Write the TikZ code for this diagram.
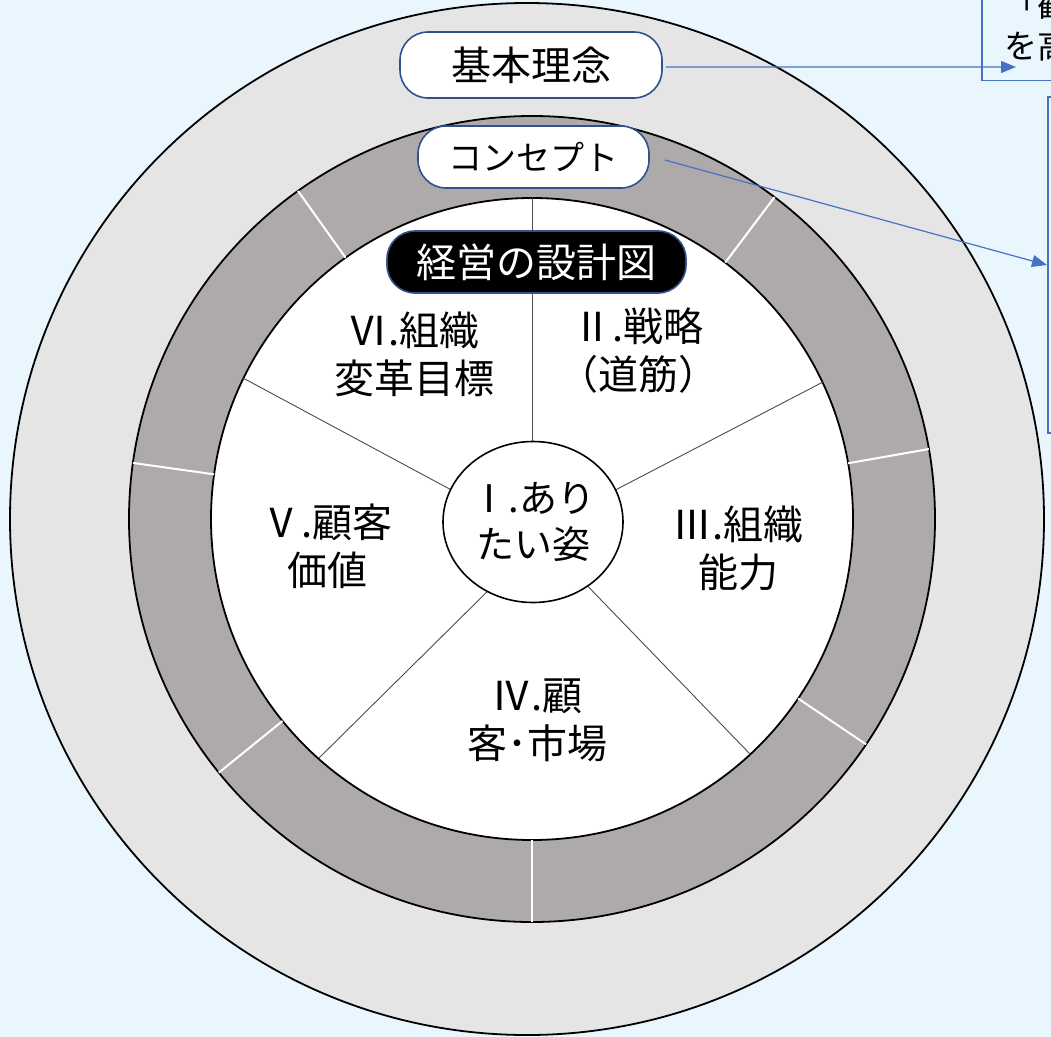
\documentclass[tikz,border=0pt]{standalone}
\usepackage{fontspec}
\newfontfamily\jp{Noto Sans CJK JP}
\usetikzlibrary{arrows.meta,shapes.geometric}
\definecolor{bgblue}{HTML}{EAF6FD}
\definecolor{ringlight}{HTML}{E5E5E5}
\definecolor{ringgray}{HTML}{AEAAAA}
\definecolor{linkblue}{HTML}{4472C4}
\definecolor{edgeblue}{HTML}{2F528F}
\begin{document}
\begin{tikzpicture}[x=1bp,y=-1bp,
  pill/.style={draw=edgeblue, line width=1.6bp, fill=white, rounded corners=28bp, inner sep=0pt,
    font=\jp\fontsize{40bp}{48bp}\selectfont},
  sectorlabel/.style={align=center, inner sep=0pt, font=\jp\fontsize{40bp}{48bp}\selectfont},
  link/.style={draw=linkblue, line width=1.2bp, -{Triangle[length=15bp,width=12bp]}},
  infobox/.style={draw=linkblue, line width=1.5bp, rectangle, inner sep=0pt},
  ringline/.style={white, line width=2bp},
  spoke/.style={draw=black!70, line width=0.9bp},
  outline/.style={draw=black, line width=1.8bp}]
\useasboundingbox (0,0) rectangle (1051,1037);
\clip (0,0) rectangle (1051,1037);
\fill[bgblue] (0,0) rectangle (1051,1037);

% rings
\draw[outline, fill=ringlight] (527,519) ellipse [x radius=517, y radius=516];
\draw[outline, fill=ringgray] (532,519) circle [radius=403];
\draw[outline, fill=white] (532,519) circle [radius=321];

% white separators in the grey ring (angles negated because the y axis points down)
\foreach \a in {-125.5,-53,-10,34,90,141,-172}
  \draw[ringline] (532,519) ++(\a:321) -- ++(\a:82);

% spokes in the white disk
\draw[spoke] (532,198) -- (532,470);
\draw[spoke] (243,378) -- (470,500);
\draw[spoke] (823,382) -- (600,498);
\draw[spoke] (319,758) -- (500,579);
\draw[spoke] (750,754) -- (575,573);

% centre
\node[draw, line width=1.6bp, fill=white, ellipse, minimum width=180bp, minimum height=161bp,
  inner sep=0pt, align=center, font=\jp\fontsize{38bp}{46bp}\selectfont] (core) at (533,522)
  {Ⅰ.あり\\たい姿};

% sector labels
\node[sectorlabel] (s2) at (638,351) {Ⅱ.戦略\\（道筋）};
\node[sectorlabel] (s3) at (738,548) {Ⅲ.組織\\能力};
\node[sectorlabel] (s4) at (537,720) {Ⅳ.顧\\客･市場};
\node[sectorlabel] (s5) at (327,546) {Ⅴ.顧客\\価値};
\node[sectorlabel] (s6) at (414,354) {Ⅵ.組織\\変革目標};

% top labels
\node[pill, minimum width=262bp, minimum height=66bp] (kihon) at (531,65) {基本理念};
\node[pill, minimum width=231bp, minimum height=62bp,
  font=\jp\fontsize{34bp}{40bp}\selectfont] (concept) at (533.5,157) {コンセプト};
\node[pill, fill=black, text=white, minimum width=299bp, minimum height=62bp] (design) at (536.5,262) {経営の設計図};

% right-hand boxes (cut off by the picture edge, as in the reference)
\node[infobox, minimum width=150bp, minimum height=200bp, anchor=south west] (box1) at (981,81) {};
\node[anchor=west, inner sep=0pt, align=left, font=\jp\fontsize{33bp}{41bp}\selectfont] (box1text) at (1004,25) {「観\\を高};
\node[infobox, minimum width=150bp, minimum height=336bp, anchor=west] (box2) at (1047,265) {};

% connectors
\coordinate (t1) at (1016,67);
\draw[link] ([xshift=3bp,yshift=-2bp]kihon.east) -- (t1);
\draw[link] ([xshift=15bp,yshift=-3bp]concept.east) -- (box2.west);
\end{tikzpicture}
\end{document}
